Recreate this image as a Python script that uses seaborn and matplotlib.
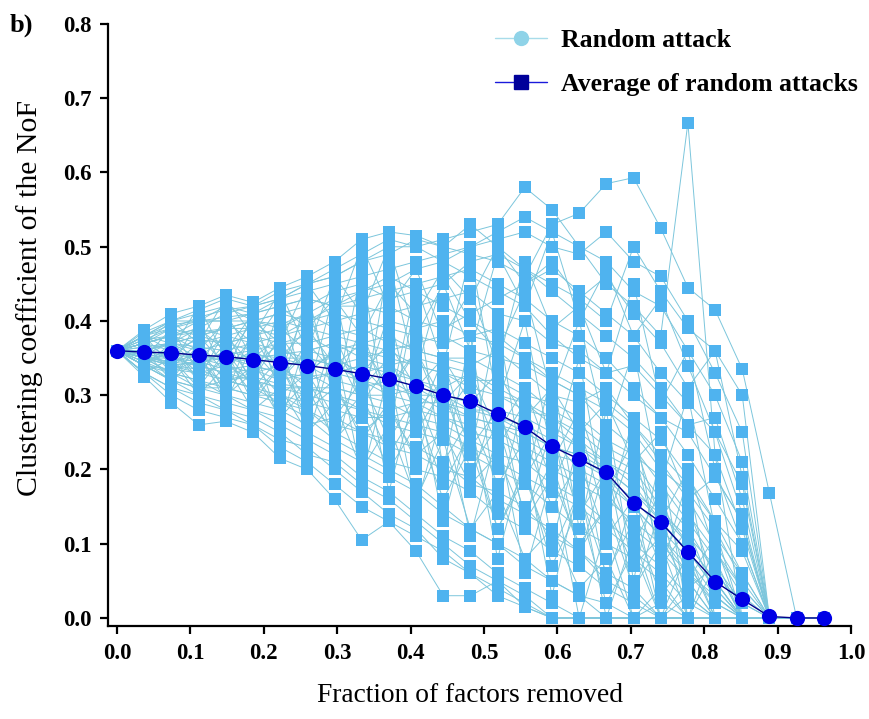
import matplotlib
matplotlib.use("Agg")
import matplotlib.pyplot as plt
from matplotlib.lines import Line2D
import numpy as np
import pandas as pd
import seaborn as sns

# ---------------- data ----------------
n_steps = 27
fraction_removed = [k / 27 for k in range(n_steps)]

average_cc = [0.360, 0.358, 0.357, 0.354, 0.352, 0.348, 0.344, 0.340, 0.335,
              0.329, 0.322, 0.312, 0.300, 0.292, 0.275, 0.257, 0.231, 0.214,
              0.196, 0.155, 0.129, 0.089, 0.049, 0.025, 0.002, 0.000, 0.000]

run01 = [.36, .37, .38, .39, .41, .42, .43, .45, .46, .48, .50, .50, .51, .52, .53, .58, .55, .50, .45, .42, .38, .667, .22, 0, 0, 0, 0]
run02 = [.36, .388, .41, .42, .435, .425, .445, .46, .48, .51, .52, .515, .50, .49, .48, .46, .53, .545, .585, .593, .525, .445, .415, .335, .168, 0, 0]
run03 = [.36, .35, .34, .33, .32, .31, .30, .28, .26, .25, .23, .22, .20, .19, .16, .14, .12, .09, .06, .04, 0, 0, 0, 0, 0, 0, 0]
run04 = [.36, .325, .29, .26, .265, .25, .215, .20, .16, .105, .13, .09, .03, .03, .05, .015, 0, 0, 0, 0, 0, 0, 0, 0, 0, 0, 0]
run05 = [.36, .365, .37, .38, .39, .40, .395, .41, .43, .44, .45, .47, .48, .50, .51, .52, .50, .49, .52, .48, .46, .40, .33, .25, 0, 0, 0]
run06 = [.36, .345, .33, .32, .31, .30, .29, .27, .24, .22, .20, .18, .15, .12, .10, .08, .05, .03, .02, 0, 0, 0, 0, 0, 0, 0, 0]
run07 = [.36, .355, .36, .35, .355, .36, .34, .345, .35, .33, .34, .32, .31, .33, .30, .28, .27, .25, .22, .20, .15, .10, .05, 0, 0, 0, 0]
run08 = [.36, .37, .36, .375, .37, .38, .37, .38, .36, .37, .38, .36, .35, .34, .36, .33, .30, .29, .31, .26, .21, .16, .10, .04, 0, 0, 0]
run09 = [.36, .38, .40, .41, .42, .40, .41, .42, .44, .45, .43, .44, .42, .40, .38, .35, .32, .30, .26, .23, .18, .13, .08, 0, 0, 0, 0]
run10 = [.36, .34, .32, .30, .29, .28, .26, .24, .22, .19, .17, .14, .11, .09, .06, .04, .02, 0, 0, 0, 0, 0, 0, 0, 0, 0, 0]
run11 = [.36, .352, .345, .34, .33, .335, .32, .33, .31, .30, .29, .27, .26, .24, .22, .21, .18, .16, .13, .10, .07, .03, 0, 0, 0, 0, 0]
run12 = [.36, .375, .39, .40, .40, .41, .42, .43, .42, .43, .44, .45, .46, .47, .45, .43, .40, .38, .35, .31, .27, .22, .16, .10, 0, 0, 0]
run13 = [.36, .36, .35, .34, .36, .37, .36, .35, .34, .32, .30, .31, .29, .28, .27, .25, .23, .22, .20, .17, .14, .11, .07, .02, 0, 0, 0]
run14 = [.36, .33, .31, .29, .28, .27, .25, .22, .21, .18, .16, .13, .10, .07, .05, .03, 0, 0, 0, 0, 0, 0, 0, 0, 0, 0, 0]
run15 = [.36, .37, .39, .38, .39, .39, .40, .39, .40, .41, .42, .40, .39, .41, .43, .45, .47, .44, .41, .38, .33, .29, .25, .18, 0, 0, 0]
run16 = [.36, .35, .33, .32, .30, .29, .28, .26, .27, .25, .24, .23, .21, .18, .17, .15, .11, .09, .05, .03, 0, 0, 0, 0, 0, 0, 0]
run17 = [.36, .38, .39, .405, .415, .42, .43, .44, .45, .46, .47, .48, .49, .50, .52, .54, .52, .50, .48, .44, .42, .36, .30, .21, 0, 0, 0]
run18 = [.36, .34, .335, .33, .34, .32, .31, .30, .29, .28, .26, .25, .24, .22, .20, .18, .15, .12, .10, .08, .05, 0, 0, 0, 0, 0, 0]
run19 = [.36, .365, .37, .365, .36, .35, .355, .36, .37, .36, .35, .34, .33, .31, .30, .29, .27, .24, .21, .18, .13, .09, .04, 0, 0, 0, 0]
run20 = [.36, .355, .34, .345, .35, .34, .33, .32, .33, .34, .33, .32, .30, .29, .27, .26, .24, .20, .18, .15, .11, .06, .02, 0, 0, 0, 0]
run21 = [.36, .37, .38, .37, .38, .39, .38, .40, .41, .40, .39, .38, .37, .38, .39, .37, .35, .33, .30, .27, .24, .19, .13, .06, 0, 0, 0]
run22 = [.36, .345, .32, .31, .31, .30, .30, .29, .28, .27, .27, .26, .25, .23, .21, .19, .17, .15, .12, .09, .06, .02, 0, 0, 0, 0, 0]
run23 = [.36, .38, .40, .40, .42, .41, .43, .45, .47, .49, .51, .50, .48, .46, .44, .42, .38, .35, .33, .30, .27, .25, .19, .13, 0, 0, 0]
run24 = [.36, .35, .36, .35, .34, .33, .34, .31, .30, .29, .28, .29, .27, .26, .25, .23, .21, .19, .17, .12, .09, .05, 0, 0, 0, 0, 0]
run25 = [.36, .36, .37, .36, .37, .36, .37, .37, .38, .39, .37, .36, .35, .35, .33, .31, .28, .26, .23, .21, .16, .12, .06, .02, 0, 0, 0]
run26 = [.36, .33, .30, .28, .27, .26, .24, .23, .20, .17, .14, .12, .08, .06, .04, .02, 0, 0, 0, 0, 0, 0, 0, 0, 0, 0, 0]
run27 = [.36, .375, .38, .39, .38, .37, .38, .39, .38, .37, .36, .37, .38, .36, .35, .34, .32, .30, .28, .25, .20, .17, .12, 0, 0, 0, 0]
run28 = [.36, .35, .345, .355, .345, .355, .35, .34, .32, .31, .32, .30, .28, .27, .26, .24, .22, .21, .19, .16, .12, .08, .03, 0, 0, 0, 0]
run29 = [.36, .385, .40, .415, .43, .42, .44, .45, .46, .48, .49, .51, .50, .53, .50, .47, .45, .43, .40, .50, .44, .39, .36, .30, 0, 0, 0]
run30 = [.36, .34, .32, .31, .30, .28, .27, .25, .23, .21, .19, .17, .14, .12, .10, .07, .05, .03, 0, 0, 0, 0, 0, 0, 0, 0, 0]
run31 = [.36, .36, .355, .35, .35, .345, .35, .35, .34, .35, .36, .34, .33, .32, .32, .30, .29, .27, .24, .22, .19, .14, .09, .04, 0, 0, 0]
run32 = [.36, .37, .38, .40, .40, .40, .41, .40, .42, .42, .41, .42, .43, .44, .41, .40, .37, .36, .33, .34, .30, .26, .27, .16, 0, 0, 0]
run33 = [.36, .34, .33, .31, .32, .31, .29, .28, .25, .23, .21, .20, .19, .17, .14, .12, .09, .07, .04, .02, 0, 0, 0, 0, 0, 0, 0]
run34 = [.36, .36, .37, .38, .37, .38, .39, .36, .37, .35, .34, .35, .34, .33, .31, .29, .26, .23, .21, .19, .14, .10, .05, 0, 0, 0, 0]
run35 = [.36, .35, .35, .34, .33, .32, .31, .31, .30, .28, .27, .28, .27, .25, .24, .22, .20, .18, .16, .13, .10, .06, .03, 0, 0, 0, 0]
run36 = [.36, .37, .38, .385, .39, .40, .39, .41, .39, .38, .40, .39, .40, .38, .37, .35, .33, .31, .29, .26, .22, .18, .13, .09, 0, 0, 0]
run37 = [.36, .33, .31, .30, .28, .26, .23, .21, .18, .15, .13, .11, .09, .06, .03, .015, 0, 0, 0, 0, 0, 0, 0, 0, 0, 0, 0]
run38 = [.36, .355, .35, .345, .335, .34, .33, .325, .33, .32, .31, .30, .30, .28, .28, .27, .25, .23, .20, .17, .13, .09, .04, 0, 0, 0, 0]
run39 = [.36, .38, .395, .40, .405, .41, .42, .43, .42, .44, .46, .44, .45, .48, .49, .47, .44, .41, .38, .35, .31, .26, .22, .12, 0, 0, 0]
run40 = [.36, .35, .34, .335, .32, .325, .315, .31, .31, .30, .30, .29, .29, .27, .26, .25, .23, .22, .19, .15, .11, .07, .02, 0, 0, 0, 0]
run41 = [.36, .33, .35, .31, .36, .29, .34, .27, .38, .30, .41, .26, .35, .22, .40, .18, .33, .12, .28, .05, .22, 0, .10, 0, 0, 0, 0]
run42 = [.36, .38, .34, .40, .33, .41, .30, .44, .29, .47, .25, .43, .20, .38, .15, .30, .10, .24, .05, .16, 0, .09, 0, 0, 0, 0, 0]
run43 = [.36, .36, .32, .37, .30, .39, .33, .42, .31, .39, .28, .45, .34, .49, .29, .40, .22, .35, .14, .27, .06, .19, 0, 0, 0, 0, 0]
run44 = [.36, .35, .39, .33, .41, .35, .38, .24, .37, .19, .33, .15, .28, .11, .25, .06, .19, 0, .12, 0, .04, 0, 0, 0, 0, 0, 0]
run45 = [.36, .37, .33, .36, .29, .37, .26, .38, .22, .36, .17, .31, .13, .27, .08, .22, .03, .18, 0, .11, 0, .03, 0, 0, 0, 0, 0]
run46 = [.36, .34, .37, .32, .39, .31, .42, .30, .44, .27, .48, .33, .46, .40, .36, .44, .30, .40, .25, .36, .18, .30, .12, .05, 0, 0, 0]
run47 = [.36, .38, .36, .42, .35, .40, .37, .45, .40, .50, .42, .47, .38, .44, .34, .48, .39, .42, .33, .45, .29, .36, .20, .10, 0, 0, 0]
run48 = [.36, .355, .37, .34, .36, .31, .35, .29, .32, .24, .29, .21, .33, .18, .30, .13, .26, .08, .21, .03, .15, 0, .07, 0, 0, 0, 0]
run49 = [.36, .36, .34, .36, .32, .33, .28, .32, .26, .30, .22, .28, .18, .25, .12, .20, .07, .15, .02, .09, 0, .05, 0, 0, 0, 0, 0]
run50 = [.36, .37, .40, .37, .43, .38, .44, .36, .46, .41, .50, .38, .45, .36, .49, .42, .52, .40, .47, .38, .43, .34, .25, .14, 0, 0, 0]
run51 = [.36, .33, .35, .30, .34, .28, .31, .25, .29, .20, .26, .16, .24, .12, .17, .08, .12, .04, .08, 0, .02, 0, 0, 0, 0, 0, 0]
run52 = [.36, .35, .33, .35, .31, .34, .30, .33, .27, .32, .24, .30, .21, .27, .18, .24, .15, .21, .11, .16, .07, .12, .03, 0, 0, 0, 0]
run53 = [.36, .38, .37, .39, .36, .41, .35, .39, .34, .37, .31, .36, .29, .33, .25, .31, .21, .28, .17, .24, .13, .20, .09, .03, 0, 0, 0]
run54 = [.36, .345, .36, .33, .37, .32, .38, .33, .36, .31, .35, .28, .32, .23, .28, .19, .25, .14, .20, .10, .17, .05, .11, .06, 0, 0, 0]
run55 = [.36, .37, .35, .38, .34, .36, .32, .37, .33, .34, .30, .36, .27, .32, .23, .29, .18, .26, .13, .23, .08, .15, .05, 0, 0, 0, 0]
run56 = [.36, .34, .32, .35, .30, .33, .27, .31, .24, .28, .20, .26, .16, .23, .12, .19, .09, .17, .06, .13, .03, .08, 0, 0, 0, 0, 0]
run57 = [.36, .37, .38, .36, .40, .37, .42, .39, .43, .38, .45, .41, .47, .43, .50, .45, .48, .43, .46, .41, .37, .31, .36, .19, 0, 0, 0]
run58 = [.36, .35, .34, .37, .33, .38, .32, .36, .35, .33, .37, .31, .35, .29, .33, .27, .31, .25, .29, .21, .25, .16, .19, .13, 0, 0, 0]
run59 = [.36, .36, .37, .35, .38, .34, .37, .33, .36, .29, .34, .25, .31, .20, .26, .14, .21, .09, .15, .04, .10, 0, 0, 0, 0, 0, 0]
run60 = [.36, .34, .36, .32, .35, .30, .34, .28, .31, .25, .28, .22, .25, .18, .22, .13, .19, .10, .15, .07, .11, .04, .07, 0, 0, 0, 0]

random_runs = [run01, run02, run03, run04, run05, run06, run07, run08, run09, run10,
               run11, run12, run13, run14, run15, run16, run17, run18, run19, run20,
               run21, run22, run23, run24, run25, run26, run27, run28, run29, run30,
               run31, run32, run33, run34, run35, run36, run37, run38, run39, run40,
               run41, run42, run43, run44, run45, run46, run47, run48, run49, run50,
               run51, run52, run53, run54, run55, run56, run57, run58, run59, run60]

x_ticks = [0.0, 0.1, 0.2, 0.3, 0.4, 0.5, 0.6, 0.7, 0.8, 0.9, 1.0]
y_ticks = [0.0, 0.1, 0.2, 0.3, 0.4, 0.5, 0.6, 0.7, 0.8]

# ---------------- tables ----------------
rows = []
for i, run in enumerate(random_runs):
    for x, y in zip(fraction_removed, run):
        rows.append({"run": i, "fraction": x, "cc": y})
df_runs = pd.DataFrame(rows)
df_avg = pd.DataFrame({"fraction": fraction_removed, "cc": average_cc})

# ---------------- style ----------------
sns.set_style("ticks")
plt.rcParams["font.family"] = ["Liberation Serif", "DejaVu Serif"]
plt.rcParams["text.color"] = "black"
plt.rcParams["axes.labelcolor"] = "black"
plt.rcParams["xtick.color"] = "black"
plt.rcParams["ytick.color"] = "black"

fig = plt.figure(figsize=(8.7, 7.19), dpi=100)
ax = fig.add_axes([108 / 870, 1 - 626 / 719, (851 - 108) / 870, (626 - 24) / 719])

line_col = "#7cc6dc"
sq_col = "#4fb3ef"

sns.lineplot(data=df_runs, x="fraction", y="cc", units="run", estimator=None,
             color=line_col, linewidth=0.7, ax=ax, legend=False, zorder=2)
sns.scatterplot(data=df_runs, x="fraction", y="cc", marker="s", color=sq_col,
                s=72, linewidth=0, ax=ax, legend=False, zorder=3, clip_on=False)

sns.lineplot(data=df_avg, x="fraction", y="cc", color="#00008b", linewidth=1.0,
             ax=ax, legend=False, zorder=4)
sns.scatterplot(data=df_avg, x="fraction", y="cc", marker="o", color="#0000e6",
                s=120, linewidth=0, ax=ax, legend=False, zorder=5, clip_on=False)

ax.set_xlim(-0.0123, 1.0)
ax.set_ylim(-0.0108, 0.8)
ax.set_xticks(x_ticks)
ax.set_yticks(y_ticks)
ax.set_xticklabels([f"{v:.1f}" for v in x_ticks], fontweight="bold", fontsize=16.5)
ax.set_yticklabels([f"{v:.1f}" for v in y_ticks], fontweight="bold", fontsize=16.5)
ax.tick_params(axis="both", direction="out", length=6, width=1.6, colors="black", pad=6)
for side in ["top", "right"]:
    ax.spines[side].set_visible(False)
for side in ["left", "bottom"]:
    ax.spines[side].set_linewidth(1.6)
    ax.spines[side].set_color("black")

ax.set_xlabel("Fraction of factors removed", fontsize=19.8, color="black")
ax.set_ylabel("Clustering coefficient of the NoF", fontsize=21.5, color="black")
ax.xaxis.set_label_coords(0.487, -0.095)
ax.yaxis.set_label_coords(-0.088, 0.545)

handles = [
    Line2D([0], [0], color="#a8dcea", linewidth=1.0, marker="o", markersize=10,
           markerfacecolor="#8fd3e8", markeredgecolor="#8fd3e8"),
    Line2D([0], [0], color="#1a1adb", linewidth=1.0, marker="s", markersize=10,
           markerfacecolor="#00009a", markeredgecolor="#00009a"),
]
ax.legend(handles, ["Random attack", "Average of random attacks"], loc="upper right",
          bbox_to_anchor=(1.04, 1.03), frameon=False,
          prop={"family": ["Liberation Serif"], "weight": "bold", "size": 18.5},
          handlelength=2.0, labelspacing=0.8, handletextpad=0.55)

fig.text(10 / 870, 1 - 32 / 719, "b)", fontsize=19, fontweight="bold", va="baseline")

fig.savefig("out.png", dpi=100)
